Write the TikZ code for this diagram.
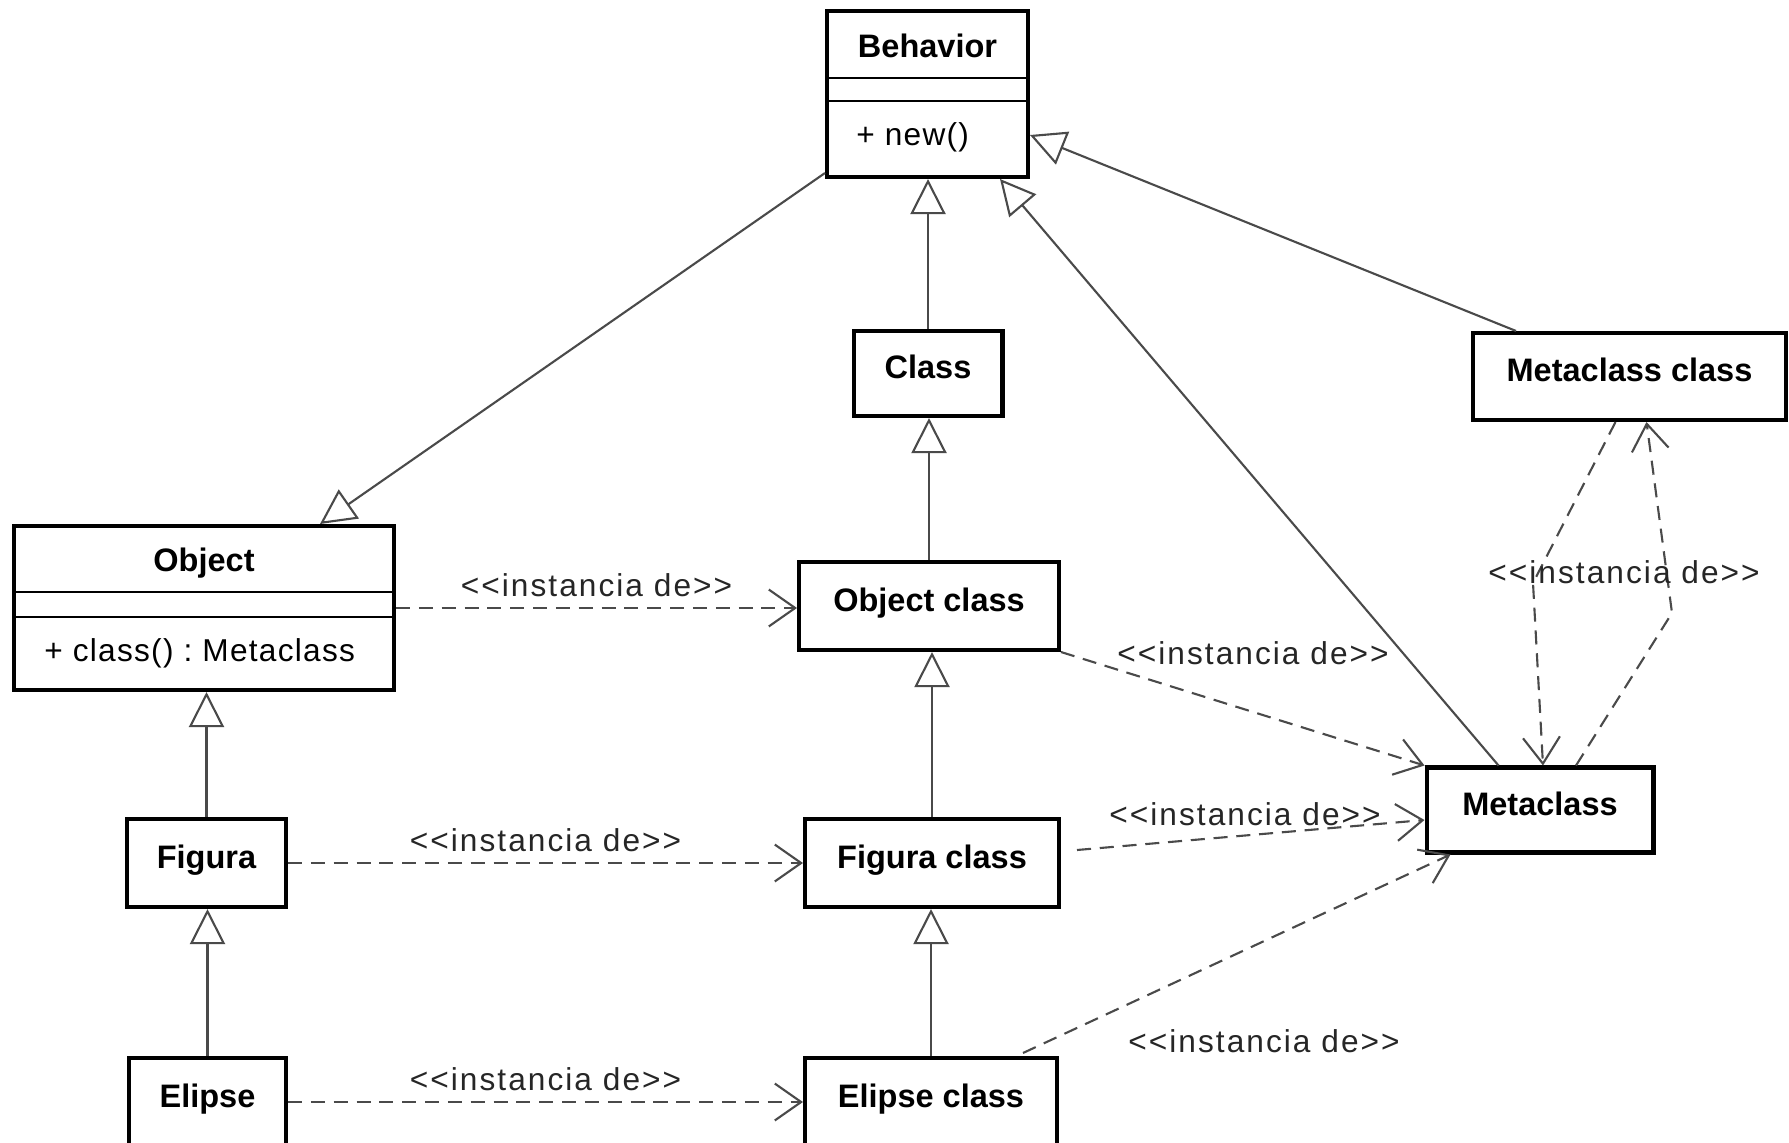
\documentclass[tikz,border=0pt]{standalone}
\usepackage{fontspec}
\setmainfont{Liberation Sans}
\newfontfamily\memfont[LetterSpace=4]{Liberation Sans}
\newfontfamily\lblfont[LetterSpace=6.5]{Liberation Sans}
\usetikzlibrary{calc}
\usetikzlibrary{arrows.meta}
\definecolor{linegray}{HTML}{4A4A4A}
\frenchspacing
\newcommand{\boldtxt}{\fontsize{18.5}{20}\selectfont\bfseries}
\newcommand{\memtxt}{\memfont\fontsize{18}{20}\selectfont}
\newcommand{\stereotxt}{\lblfont\fontsize{18}{20}\selectfont}

\begin{document}
\begin{tikzpicture}[x=0.02cm, y=-0.02cm,
        box/.style={draw, line width=2.3pt, fill=white, inner sep=0pt, font=\boldtxt, text height=14pt, text depth=8pt},
        title/.style={inner sep=0pt, font=\boldtxt, text height=14pt, text depth=8pt},
        member/.style={inner sep=0pt, anchor=west, font=\memtxt},
        compline/.style={line width=1.7pt},
        gen/.style={draw=linegray, line width=1.2pt, -{Triangle[open, length=20pt, width=20pt]}},
        inst/.style={draw=linegray, line width=1.2pt, dash pattern=on 8pt off 5pt, -{Straight Barb[length=15pt, width=21pt]}},
        stereo/.style={inner sep=0pt, font=\stereotxt, text=black!85}]
        \useasboundingbox (0,0) rectangle (1789,1143);
        \clip (0,0) rectangle (1789,1143);

        \node[box, minimum width=4.02cm, minimum height=3.32cm] (behavior) at (927.5,94) {};
        \draw[compline] ($(behavior.north west)+(0,69)$) -- ($(behavior.north east)+(0,69)$);
        \draw[compline] ($(behavior.north west)+(0,92)$) -- ($(behavior.north east)+(0,92)$);
        \node[title] (behaviorname) at ($(behavior.north)+(0,43)$) {Behavior};
        \node[member] (behaviorops) at ($(behavior.west)+(31,43)$) {+ new()};

        \node[box, minimum width=7.6cm, minimum height=3.28cm] (object) at (204,608) {};
        \draw[compline] ($(object.north west)+(0,68)$) -- ($(object.north east)+(0,68)$);
        \draw[compline] ($(object.north west)+(0,93)$) -- ($(object.north east)+(0,93)$);
        \node[title] (objectname) at ($(object.north)+(0,42)$) {Object};
        \node[member] (objectops) at ($(object.west)+(32,45)$) {+ class() : Metaclass};

        \node[box, minimum width=2.98cm, minimum height=1.7cm] (class) at (928,373.5) {Class};
        \node[box, minimum width=6.26cm, minimum height=1.74cm] (mcclass) at (1629.5,376.5) {Metaclass class};
        \node[box, minimum width=5.2cm, minimum height=1.76cm] (objclass) at (929,606) {Object class};
        \node[box, minimum width=4.54cm, minimum height=1.7cm] (metaclass) at (1540,810) {Metaclass};
        \node[box, minimum width=3.18cm, minimum height=1.76cm] (figura) at (206.5,863) {Figura};
        \node[box, minimum width=5.08cm, minimum height=1.76cm] (figclass) at (932,863) {Figura class};
        \node[box, minimum width=3.14cm, minimum height=1.76cm] (elipse) at (207.5,1102) {Elipse};
        \node[box, minimum width=5.04cm, minimum height=1.76cm] (elclass) at (931,1102) {Elipse class};

        \draw[gen] ($(behavior.south west)+(0,-6)$) -- ($(object.north west)+(308,0)$);
        \draw[gen] (class.north) -- (class.north |- behavior.south);
        \draw[gen] ($(metaclass.north west)+(74,0)$) -- ($(behavior.south east)+(-30,0)$);
        \draw[gen] ($(mcclass.north west)+(45,0)$) -- ($(behavior.east)+(0,41)$);
        \draw[gen] (objclass.north) -- (objclass.north |- class.south);
        \draw[gen] (figclass.north) -- (figclass.north |- objclass.south);
        \draw[gen] (elclass.north) -- (elclass.north |- figclass.south);
        \draw[gen] (figura.north) -- (figura.north |- object.south);
        \draw[gen] (elipse.north) -- (elipse.north |- figura.south);

        \draw[inst] (object.east) -- (object.east -| objclass.west) node[stereo, midway, above=5.5pt] (instobject) {<{}<instancia de>{}>};
        \draw[inst] (figura.east) -- (figura.east -| figclass.west) node[stereo, midway, above=5.5pt] (instfigura) {<{}<instancia de>{}>};
        \draw[inst] (elipse.east) -- (elipse.east -| elclass.west) node[stereo, midway, above=5.5pt] (instelipse) {<{}<instancia de>{}>};
        \draw[inst] (objclass.south east) -- (metaclass.north west);
        \node[stereo] (instobjclass) at (1253,653) {<{}<instancia de>{}>};
        \draw[inst] ($(figclass.east)+(16,-13)$) -- ($(metaclass.west)+(0,10)$);
        \node[stereo] (instfigclass) at (1245,814) {<{}<instancia de>{}>};
        \draw[inst] ($(elclass.north east)+(-36,-3)$) -- ($(metaclass.south west)+(26,0)$);
        \node[stereo] (instelclass) at (1264,1041) {<{}<instancia de>{}>};

        \coordinate (upbend) at (1672,613);
        \coordinate (downbend) at (1533,583);
        \draw[inst] ($(metaclass.north)+(36,0)$) -- (upbend) -- ($(mcclass.south)+(17,0)$);
        \draw[inst] ($(mcclass.south)+(-14,0)$) -- (downbend) -- ($(metaclass.north)+(3,0)$);
        \node[stereo] (instmeta) at (1624,572) {<{}<instancia de>{}>};
\end{tikzpicture}
\end{document}
